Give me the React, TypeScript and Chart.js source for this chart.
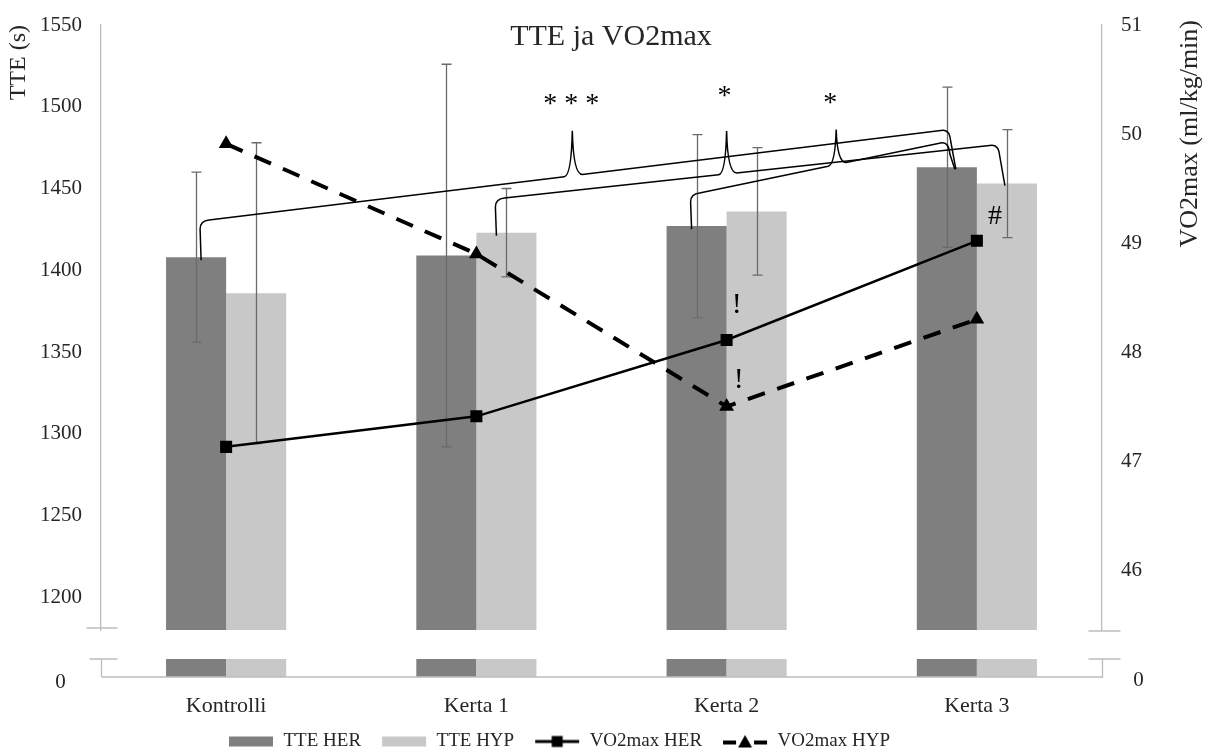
import React, { useEffect, useRef } from "react";
import { Chart, registerables } from "chart.js";

Chart.register(...registerables);

// ---------------- data ----------------
const categories = ["Kontrolli", "Kerta 1", "Kerta 2", "Kerta 3"];
const tteHer = [1408, 1409, 1427, 1463];
const tteHerSd = [52, 117, 56, 49];
const tteHyp = [1386, 1423, 1436, 1453];
const tteHypSd = [92, 27, 39, 33];
const vo2Her = [47.13, 47.41, 48.11, 49.02];
const vo2Hyp = [49.91, 48.9, 47.5, 48.3];

const tteRange = [1180, 1550];
const tteStep = 50;
const vo2Range = [45.45, 51];
const vo2Step = 1;
const zeroLabel = "0";

const seriesLabels = ["TTE HER", "TTE HYP", "VO2max HER", "VO2max HYP"];
const titleText = "TTE ja VO2max";
const leftTitle = "TTE (s)";
const rightTitle = "VO2max (ml/kg/min)";

// significance brackets: [dataset, category] -> [dataset, category], line levels (TTE units)
const bracketFrom = [[0, 0], [1, 1], [0, 2]];
const bracketTo = [[0, 3], [1, 3], [0, 3]];
const bracketLevels = [[1430.7, 1485.8], [1444.2, 1476.6], [1447.3, 1478.4]];
const bracketMarks = ["* * *", "*", "*"];

// text marks next to VO2max points: [dataset, category]
const pointMarkRefs = [[2, 3], [2, 2], [3, 2]];
const pointMarkTexts = ["#", "!", "!"];

// ---------------- styles ----------------
const FONT = "'Liberation Serif', 'Times New Roman', serif";
const DARK = "#7f7f7f";
const LIGHT = "#c8c8c8";
const AXIS = "#bdbdbd";
const ERR = "#6a6a6a";
const TEXT = "#262626";
const W = 1211;
const H = 771;

// bracket geometry tweaks (pixels)
const bracketStyle = [
  { startDx: 5, endDx: 9, t: 0.493, rise: 45, labelDx: -1, labelUp: 33 },
  { startDx: -10, endDx: -2, t: 0.453, rise: 43, labelDx: -2, labelUp: 41 },
  { startDx: -5, endDx: 8, t: 0.557, rise: 35, labelDx: -6, labelUp: 33 },
];
const pointMarkStyle = [
  { dx: 18, dy: -24, size: 28 },
  { dx: 10, dy: -35, size: 30 },
  { dx: 12, dy: -26, size: 30 },
];

function makeSymbol(kind: number): HTMLCanvasElement {
  const c = document.createElement("canvas");
  c.width = 46;
  c.height = 16;
  const g = c.getContext("2d")!;
  if (kind === 0 || kind === 1) {
    g.fillStyle = kind === 0 ? DARK : LIGHT;
    g.fillRect(1, 3, 44, 10);
  } else if (kind === 2) {
    g.strokeStyle = "#000";
    g.lineWidth = 3;
    g.beginPath();
    g.moveTo(1, 8);
    g.lineTo(45, 8);
    g.stroke();
    g.fillStyle = "#000";
    g.fillRect(17.5, 2.5, 11, 11);
  } else {
    g.strokeStyle = "#000";
    g.lineWidth = 4;
    g.beginPath();
    g.moveTo(1, 9);
    g.lineTo(14, 9);
    g.moveTo(32, 9);
    g.lineTo(45, 9);
    g.stroke();
    g.fillStyle = "#000";
    g.beginPath();
    g.moveTo(23, 1.5);
    g.lineTo(30, 14);
    g.lineTo(16, 14);
    g.closePath();
    g.fill();
  }
  return c;
}

const LEGEND_START = 228;
const LEGEND_PAD = 20;

const legendShiftPlugin = {
  id: "legendShift",
  afterLayout(chart: any) {
    const lg = chart.legend;
    if (!lg || !lg.lineWidths) return;
    const startX = (lg.left + LEGEND_PAD + lg.right - lg.lineWidths[0]) / 2;
    const shift = LEGEND_START - startX;
    lg.left += shift;
    lg.right += shift;
  },
};

const errorBarPlugin = {
  id: "errorBars",
  afterDatasetDraw(chart: any, args: any) {
    const sds = [tteHerSd, tteHypSd][args.index];
    if (!sds) return;
    const vals = [tteHer, tteHyp][args.index];
    const ys = chart.scales.y;
    const ctx = chart.ctx;
    ctx.save();
    ctx.strokeStyle = ERR;
    ctx.lineWidth = 1.3;
    args.meta.data.forEach((el: any, i: number) => {
      const x = Math.round(el.x) + 0.5;
      const t = ys.getPixelForValue(vals[i] + sds[i]);
      const b = ys.getPixelForValue(vals[i] - sds[i]);
      ctx.beginPath();
      ctx.moveTo(x, t);
      ctx.lineTo(x, b);
      ctx.moveTo(x - 5, t);
      ctx.lineTo(x + 5, t);
      ctx.moveTo(x - 5, b);
      ctx.lineTo(x + 5, b);
      ctx.stroke();
    });
    ctx.restore();
  },
};

const decorPlugin = {
  id: "decor",
  afterDraw(chart: any) {
    const ctx = chart.ctx;
    const ca = chart.chartArea;
    const ys = chart.scales.y;
    const lowTop = ca.bottom + 29;
    const base = ca.bottom + 47;
    ctx.save();

    // lower (broken-axis) stubs of the bars
    [0, 1].forEach((di) => {
      const meta = chart.getDatasetMeta(di);
      ctx.fillStyle = di === 0 ? DARK : LIGHT;
      meta.data.forEach((el: any) => {
        ctx.fillRect(el.x - el.width / 2, lowTop, el.width, base - lowTop);
      });
    });

    // axis breaks and base line
    ctx.strokeStyle = AXIS;
    ctx.lineWidth = 1.3;
    const L = Math.round(ca.left) + 0.5;
    const R = Math.round(ca.right) + 0.5;
    ctx.beginPath();
    ctx.moveTo(L - 15, ca.bottom - 2);
    ctx.lineTo(L + 16, ca.bottom - 2);
    ctx.moveTo(L - 12, lowTop);
    ctx.lineTo(L + 16, lowTop);
    ctx.moveTo(L, lowTop);
    ctx.lineTo(L, base);
    ctx.moveTo(L, base);
    ctx.lineTo(R, base);
    ctx.moveTo(R - 14, ca.bottom + 1);
    ctx.lineTo(R + 18, ca.bottom + 1);
    ctx.moveTo(R - 14, lowTop);
    ctx.lineTo(R + 18, lowTop);
    ctx.moveTo(R, lowTop);
    ctx.lineTo(R, base + 1);
    ctx.stroke();

    // zero labels
    ctx.fillStyle = TEXT;
    ctx.font = `21px ${FONT}`;
    ctx.textBaseline = "middle";
    ctx.textAlign = "center";
    ctx.fillText(zeroLabel, L - 41, base + 5);
    ctx.fillText(zeroLabel, R + 36, base + 3);

    // chart title
    ctx.font = `30px ${FONT}`;
    ctx.fillText(titleText, 611, ca.top + 12);

    // right axis title (reads bottom to top)
    ctx.save();
    ctx.font = `26px ${FONT}`;
    ctx.translate(1190, ca.top - 5);
    ctx.rotate(-Math.PI / 2);
    ctx.textAlign = "right";
    ctx.textBaseline = "middle";
    ctx.fillText(rightTitle, 0, 0);
    ctx.restore();

    // brackets
    ctx.strokeStyle = "#000";
    ctx.lineWidth = 1.5;
    bracketFrom.forEach((fr, k) => {
      const to = bracketTo[k];
      const st = bracketStyle[k];
      const a = chart.getDatasetMeta(fr[0]).data[fr[1]];
      const b = chart.getDatasetMeta(to[0]).data[to[1]];
      const hx = a.x + st.startDx;
      const ex = b.x + st.endDx;
      const yA = ys.getPixelForValue(bracketLevels[k][0]);
      const yB = ys.getPixelForValue(bracketLevels[k][1]);
      const x0 = hx + 8;
      const x1 = ex - 10;
      const ly = (x: number) => yA + ((yB - yA) * (x - x0)) / (x1 - x0);
      const tx = x0 + st.t * (x1 - x0);
      ctx.beginPath();
      ctx.moveTo(hx, a.y + 3);
      ctx.lineTo(hx - 1, yA + 9);
      ctx.quadraticCurveTo(hx - 1, yA + 1, x0, yA);
      ctx.lineTo(tx - 8, ly(tx - 8));
      ctx.quadraticCurveTo(tx - 1, ly(tx), tx, ly(tx) - st.rise);
      ctx.quadraticCurveTo(tx + 1, ly(tx + 10), tx + 10, ly(tx + 10));
      ctx.lineTo(x1 - 3, ly(x1 - 3));
      ctx.quadraticCurveTo(x1 + 4, yB, x1 + 5, yB + 12);
      ctx.lineTo(ex, b.y + 2);
      ctx.stroke();

      ctx.font = `28px ${FONT}`;
      ctx.textAlign = "center";
      ctx.textBaseline = "alphabetic";
      ctx.fillStyle = "#000";
      ctx.fillText(bracketMarks[k], tx + st.labelDx, ly(tx) - st.rise - st.labelUp + 14);
    });

    // point marks
    pointMarkRefs.forEach((ref, k) => {
      const el = chart.getDatasetMeta(ref[0]).data[ref[1]];
      const st = pointMarkStyle[k];
      ctx.font = `${st.size}px ${FONT}`;
      ctx.textAlign = "center";
      ctx.textBaseline = "middle";
      ctx.fillStyle = "#000";
      ctx.fillText(pointMarkTexts[k], el.x + st.dx, el.y + st.dy);
    });
    ctx.restore();
  },
};

export default function App() {
  const ref = useRef<HTMLCanvasElement | null>(null);
  useEffect(() => {
    if (!ref.current) return;
    const symbols = [0, 1, 2, 3].map(makeSymbol);
    const chart = new Chart(ref.current, {
      type: "bar",
      data: {
        labels: categories,
        datasets: [
          {
            type: "bar",
            label: seriesLabels[0],
            data: tteHer,
            backgroundColor: DARK,
            yAxisID: "y",
            order: 3,
            categoryPercentage: 0.48,
            barPercentage: 1,
          },
          {
            type: "bar",
            label: seriesLabels[1],
            data: tteHyp,
            backgroundColor: LIGHT,
            yAxisID: "y",
            order: 3,
            categoryPercentage: 0.48,
            barPercentage: 1,
          },
          {
            type: "line",
            label: seriesLabels[2],
            data: vo2Her,
            borderColor: "#000",
            backgroundColor: "#000",
            borderWidth: 2.5,
            pointStyle: "rect",
            pointRadius: 8.5,
            pointBorderWidth: 0,
            yAxisID: "y1",
            order: 1,
          },
          {
            type: "line",
            label: seriesLabels[3],
            data: vo2Hyp,
            borderColor: "#000",
            backgroundColor: "#000",
            borderWidth: 4,
            borderDash: [18, 13],
            pointStyle: "triangle",
            pointRadius: 8.5,
            pointBorderWidth: 0,
            yAxisID: "y1",
            order: 2,
          },
        ] as any,
      },
      options: {
        responsive: false,
        animation: false,
        devicePixelRatio: 1,
        events: [],
        layout: { padding: { top: 25, bottom: 10, left: 0, right: 0 } },
        scales: {
          x: {
            grid: { display: false, drawTicks: false },
            border: { display: false },
            ticks: { padding: 63, color: TEXT, font: { family: FONT, size: 22 } },
            afterFit: (s: any) => {
              s.height = 82;
            },
          },
          y: {
            position: "left",
            min: tteRange[0],
            max: tteRange[1],
            grid: { display: false, drawTicks: true, tickLength: 19 },
            border: { display: true, color: AXIS, width: 1.3 },
            ticks: {
              stepSize: tteStep,
              includeBounds: false,
              padding: 0,
              color: TEXT,
              font: { family: FONT, size: 21 },
              callback: (v: any) => String(v),
            },
            title: {
              display: true,
              text: leftTitle,
              align: "end",
              color: TEXT,
              font: { family: FONT, size: 24 },
              padding: { top: 4, bottom: 0 },
            },
            afterFit: (s: any) => {
              s.width = 101;
            },
          },
          y1: {
            position: "right",
            min: vo2Range[0],
            max: vo2Range[1],
            grid: { display: false, drawTicks: true, tickLength: 19 },
            border: { display: true, color: AXIS, width: 1.3 },
            ticks: {
              stepSize: vo2Step,
              includeBounds: false,
              padding: 0,
              color: TEXT,
              font: { family: FONT, size: 21 },
              callback: (v: any) => String(v),
            },
            afterFit: (s: any) => {
              s.width = 109;
            },
          },
        },
        plugins: {
          tooltip: { enabled: false },
          title: { display: false },
          legend: {
            display: true,
            position: "bottom",
            labels: {
              usePointStyle: true,
              pointStyleWidth: 46,
              padding: LEGEND_PAD,
              color: TEXT,
              font: { family: FONT, size: 19 },
              generateLabels: () =>
                seriesLabels.map((text, i) => ({
                  text,
                  pointStyle: symbols[i],
                  datasetIndex: i,
                  hidden: false,
                  lineWidth: 0,
                  fillStyle: "rgba(0,0,0,0)",
                  strokeStyle: "rgba(0,0,0,0)",
                  fontColor: TEXT,
                })),
            },
          },
        },
      } as any,
      plugins: [legendShiftPlugin, errorBarPlugin, decorPlugin],
    });
    return () => chart.destroy();
  }, []);

  return (
    <div
      style={{
        position: "fixed",
        left: 0,
        top: 0,
        width: W,
        height: 751,
        overflow: "hidden",
        background: "#fff",
      }}
    >
      <canvas ref={ref} width={W} height={H} style={{ width: W, height: H, display: "block" }} />
    </div>
  );
}
